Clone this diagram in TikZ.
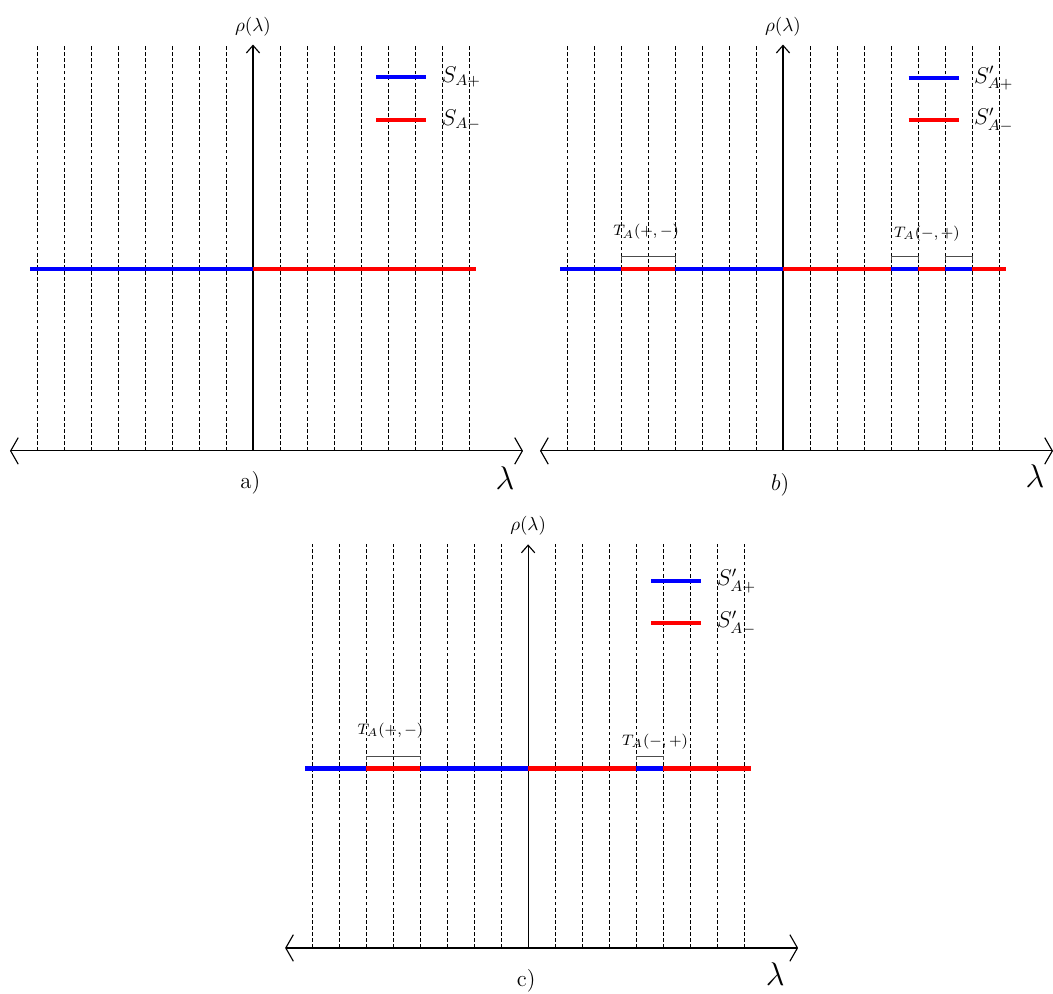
\documentclass[tikz,border=0pt]{standalone}
\usepackage{tikz}
\usetikzlibrary{arrows.meta, positioning}

\begin{document}
\begin{tikzpicture}[x=0.5cm, y=0.5cm,
    grid/.style={dash pattern=on 2pt off 1.2pt, line width=0.5pt},
    axis/.style={line width=0.6pt},
    haxis/.style={axis, {Straight Barb[length=4pt,width=14pt]}-{Straight Barb[length=4pt,width=14pt]}},
    vaxis/.style={axis, -{Straight Barb[length=4pt,width=7pt]}},
    plus/.style={blue, line width=2.2pt},
    minus/.style={red, line width=2.2pt},
    brace/.style={black!70, line width=0.35pt},
    tlabel/.style={font=\footnotesize, inner sep=1pt},
    legend/.style={right, inner sep=0pt, xshift=8pt}]

    \useasboundingbox (-9.37,-20.11) rectangle (29.63,16.70);

    % a)
    \begin{scope}
    \foreach \i in {-8,...,-1,1,2,...,8} \draw[grid] (\i,0) -- (\i,15.05);
    \coordinate (aO) at (0,0);
    \coordinate (aL) at (-9,0);
    \coordinate (aR) at (10,0);
    \coordinate (aT) at (0,15.05);
    \draw[haxis] (aL) -- (aR);
    \draw[vaxis] (aO) -- (aT);
    \node[above=1pt of aT] (arho) {$\rho(\lambda)$};
    \node (alam) at (9.33,-1) {\LARGE$\lambda$};
    \node (acap) at (-0.1,-1.2) {\large a)};
    \draw[plus] (-8.25,6.75) -- (0,6.75);
    \draw[minus] (0,6.75) -- (8.25,6.75);
    \draw[plus] (4.56,13.85) coordinate (ap1) -- (6.41,13.85) coordinate (ap2);
    \draw[minus] (4.56,12.26) coordinate (am1) -- (6.41,12.26) coordinate (am2);
    \node[legend] (aSp) at (ap2) {\large$S_{A+}$};
    \node[legend] (aSm) at (am2) {\large$S_{A-}$};
    \end{scope}

    % b)
    \begin{scope}[shift={(19.63,0)}]
    \foreach \i in {-8,...,-1,1,2,...,8} \draw[grid] (\i,0) -- (\i,15.05);
    \coordinate (bO) at (0,0);
    \coordinate (bL) at (-9,0);
    \coordinate (bR) at (10,0);
    \coordinate (bT) at (0,15.05);
    \draw[haxis] (bL) -- (bR);
    \draw[vaxis] (bO) -- (bT);
    \node[above=1pt of bT] (brho) {$\rho(\lambda)$};
    \node (blam) at (9.33,-0.95) {\LARGE$\lambda$};
    \node (bcap) at (-0.1,-1.25) {\large$b)$};
    \draw[plus] (-8.25,6.75) -- (-6,6.75);
    \draw[minus] (-6,6.75) -- (-4,6.75);
    \draw[plus] (-4,6.75) -- (0,6.75);
    \draw[minus] (0,6.75) -- (4,6.75);
    \draw[plus] (4,6.75) -- (5,6.75);
    \draw[minus] (5,6.75) -- (6,6.75);
    \draw[plus] (6,6.75) -- (7,6.75);
    \draw[minus] (7,6.75) -- (8.25,6.75);
    \draw[brace] (-6,7.08) -- (-6,7.19) -- (-4,7.19) -- (-4,7.08);
    \draw[brace] (4,7.08) -- (4,7.19) -- (5,7.19) -- (5,7.08);
    \draw[brace] (6,7.08) -- (6,7.19) -- (7,7.19) -- (7,7.08);
    \node[tlabel] (bTpm) at (-5.07,8.1) {$T_A(+,-)$};
    \node[tlabel] (bTmp) at (5.33,8.05) {$T_A(-,+)$};
    \draw[plus] (4.65,13.8) coordinate (bp1) -- (6.5,13.8) coordinate (bp2);
    \draw[minus] (4.65,12.25) coordinate (bm1) -- (6.5,12.25) coordinate (bm2);
    \node[legend] (bSp) at (bp2) {\large$S'_{A+}$};
    \node[legend] (bSm) at (bm2) {\large$S'_{A-}$};
    \end{scope}

    % c)
    \begin{scope}[shift={(10.19,-18.41)}]
    \foreach \i in {-8,...,-1,1,2,...,8} \draw[grid] (\i,0) -- (\i,14.95);
    \coordinate (cO) at (0,0);
    \coordinate (cL) at (-9,0);
    \coordinate (cR) at (10,0);
    \coordinate (cT) at (0,14.95);
    \draw[haxis] (cL) -- (cR);
    \draw[vaxis] (cO) -- (cT);
    \node[above=1pt of cT] (crho) {$\rho(\lambda)$};
    \node (clam) at (9.15,-0.95) {\LARGE$\lambda$};
    \node (ccap) at (-0.07,-1.2) {\large c)};
    \draw[plus] (-8.25,6.65) -- (-6,6.65);
    \draw[minus] (-6,6.65) -- (-4,6.65);
    \draw[plus] (-4,6.65) -- (0,6.65);
    \draw[minus] (0,6.65) -- (4,6.65);
    \draw[plus] (4,6.65) -- (5,6.65);
    \draw[minus] (5,6.65) -- (8.25,6.65);
    \draw[brace] (-6,6.98) -- (-6,7.1) -- (-4,7.1) -- (-4,6.98);
    \draw[brace] (4,6.98) -- (4,7.1) -- (5,7.1) -- (5,6.98);
    \node[tlabel] (cTpm) at (-5.1,8.05) {$T_A(+,-)$};
    \node[tlabel] (cTmp) at (4.7,7.65) {$T_A(-,+)$};
    \draw[plus] (4.56,13.6) coordinate (cp1) -- (6.41,13.6) coordinate (cp2);
    \draw[minus] (4.56,12.04) coordinate (cm1) -- (6.41,12.04) coordinate (cm2);
    \node[legend] (cSp) at (cp2) {\large$S'_{A+}$};
    \node[legend] (cSm) at (cm2) {\large$S'_{A-}$};
    \end{scope}
\end{tikzpicture}
\end{document}
